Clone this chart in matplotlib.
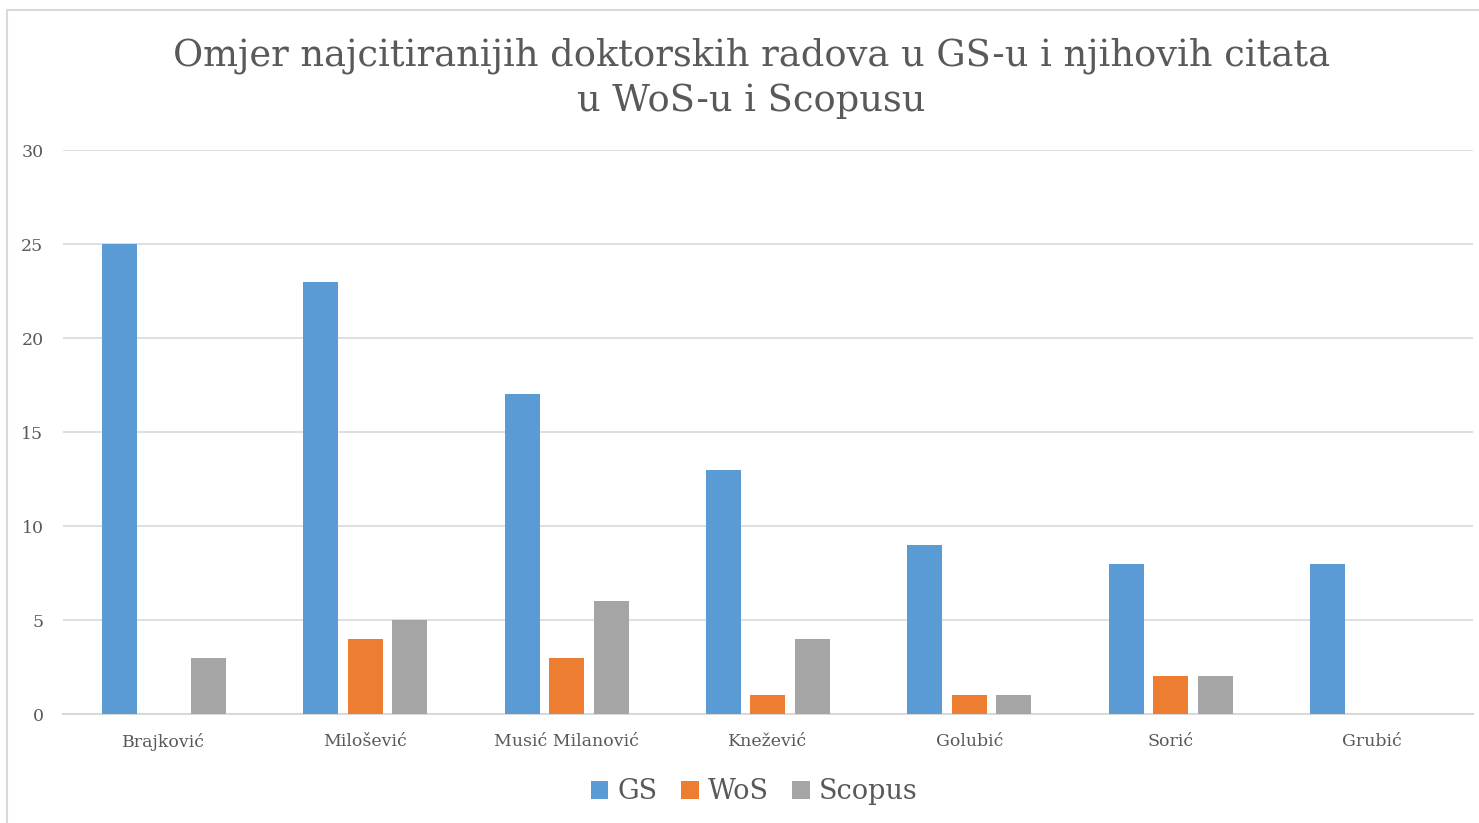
import matplotlib.pyplot as plt
from matplotlib.patches import Rectangle
import numpy as np

# Data
authors = ['Brajković', 'Milošević', 'Musić Milanović', 'Knežević',
           'Golubić', 'Sorić', 'Grubić']
gs = [25, 23, 17, 13, 9, 8, 8]
wos = [0, 4, 3, 1, 1, 2, 0]
scopus = [3, 5, 6, 4, 1, 2, 0]

blue = '#5b9bd5'
orange = '#ed7d31'
gray = '#a5a5a5'
text_col = '#595959'
grid_col = '#d9d9d9'

plt.rcParams['font.family'] = ['DejaVu Serif']

fig = plt.figure(figsize=(14.79, 8.23), dpi=100, facecolor='white')
ax = fig.add_axes([0.0426, 0.1324, 0.9533, 0.6853])

x = np.arange(len(authors))
w = 0.174
off = 0.221
ax.bar(x - off, gs, w, color=blue, label='GS', zorder=3)
ax.bar(x, wos, w, color=orange, label='WoS', zorder=3)
ax.bar(x + off, scopus, w, color=gray, label='Scopus', zorder=3)

ax.set_xlim(-0.5, len(authors) - 0.5)
ax.set_ylim(0, 30)
ax.set_yticks(range(0, 31, 5))
ax.set_xticks(x)
ax.set_xticklabels(authors)
ax.yaxis.grid(True, color=grid_col, linewidth=1.2, zorder=0)
ax.tick_params(axis='both', length=0, labelsize=12.5, colors=text_col)
ax.tick_params(axis='x', pad=14)
ax.tick_params(axis='y', pad=14)
for s in ['top', 'right', 'left']:
    ax.spines[s].set_visible(False)
ax.spines['bottom'].set_color(grid_col)
ax.spines['bottom'].set_linewidth(1.5)

fig.text(0.508, 0.905,
         'Omjer najcitiranijih doktorskih radova u GS-u i njihovih citata\nu WoS-u i Scopusu',
         ha='center', va='center', fontsize=26.5, color=text_col, linespacing=1.3)

leg = fig.legend(loc='center', bbox_to_anchor=(0.51, 0.038), ncol=3,
                 frameon=False, fontsize=19.5, handlelength=0.65, handleheight=0.65,
                 handletextpad=0.35, columnspacing=0.85)
for t in leg.get_texts():
    t.set_color(text_col)

# chart border
fig.patches.append(Rectangle((7 / 1479, -0.1), 1.2, 1.1 - 10 / 823,
                             transform=fig.transFigure, fill=False,
                             edgecolor=grid_col, linewidth=1.5))

plt.savefig('out.png', dpi=100, facecolor='white')
